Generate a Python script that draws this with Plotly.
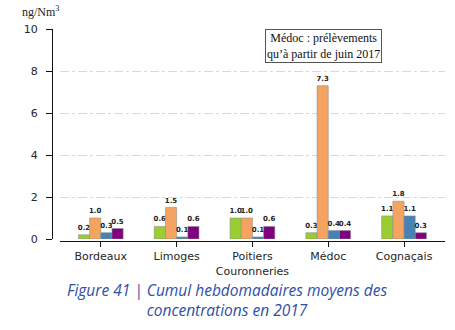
import plotly.graph_objects as go

# Sites and weekly cumulative mean concentrations (ng/Nm3), 2017
sites = ["Bordeaux", "Limoges", "Poitiers<br>Couronneries", "Médoc", "Cognaçais"]
serie_verte = [0.2, 0.6, 1.0, 0.3, 1.1]
serie_orange = [1.0, 1.5, 1.0, 7.3, 1.8]
serie_bleue = [0.3, 0.1, 0.1, 0.4, 1.1]
serie_violette = [0.5, 0.6, 0.6, 0.4, 0.3]
y_ticks = [0, 2, 4, 6, 8, 10]

couleurs = ["#9acd32", "#f4a460", "#4682b4", "#800080"]
series = [serie_verte, serie_orange, serie_bleue, serie_violette]

W, H = 455, 330
M_L, M_R, M_T, M_B = 52, 10, 29, 89
plot_w = W - M_L - M_R
plot_h = H - M_T - M_B


def px_x(px):
    """pixel column -> paper x"""
    return (px - M_L) / plot_w


def py(px):
    """pixel row -> paper y"""
    return (H - M_B - px) / plot_h


fig = go.Figure()
for vals, col in zip(series, couleurs):
    fig.add_trace(go.Bar(
        x=list(range(len(sites))), y=vals,
        marker=dict(color=col, line=dict(color="rgba(140,140,140,0.7)", width=0.8)),
        text=[f"{v:.1f}" for v in vals], textposition="outside",
        textfont=dict(family="DejaVu Sans", size=7, color="#222", weight="bold"),
        constraintext="none", cliponaxis=False, showlegend=False,
    ))

fig.update_layout(
    width=W, height=H,
    margin=dict(l=M_L, r=M_R, t=M_T, b=M_B),
    paper_bgcolor="white", plot_bgcolor="white",
    barmode="group", bargap=0.41, bargroupgap=0,
    font=dict(family="DejaVu Sans", color="#262626"),
    xaxis=dict(
        domain=[0.02, 1], anchor="free", position=0,
        range=[-0.54, 4.54], tickmode="array",
        tickvals=list(range(len(sites))), ticktext=sites,
        showline=True, linecolor="#111", linewidth=1.2,
        ticks="outside", ticklen=5, tickcolor="#111", tickwidth=1,
        tickfont=dict(size=11), showgrid=False, zeroline=False,
    ),
    yaxis=dict(
        domain=[2 / plot_h, 1], anchor="free", position=0,
        range=[0, 10], tickvals=y_ticks,
        showline=True, linecolor="#111", linewidth=1.2,
        ticks="outside", ticklen=6, tickcolor="#111", tickwidth=1,
        ticklabelstandoff=6, tickfont=dict(size=11),
        showgrid=True, gridcolor="#d9d9d9", griddash="dashdot", gridwidth=1,
        zeroline=False,
    ),
)

# unit label above the y axis
fig.add_annotation(
    text="ng/Nm<sup>3</sup>", xref="paper", yref="paper",
    x=px_x(41), y=py(12), xanchor="center", yanchor="middle", showarrow=False,
    font=dict(family="Liberation Serif", size=12, color="#222"),
)

# note about the Médoc sampling period
fig.add_annotation(
    text="Médoc : prélèvements<br>qu’à partir de juin 2017",
    xref="paper", yref="paper", x=px_x(323), y=py(46.5),
    xanchor="center", yanchor="middle", showarrow=False,
    font=dict(family="Liberation Serif", size=12, color="#111"),
    bordercolor="#555", borderwidth=1, borderpad=1, bgcolor="white",
)

# figure caption
fig.add_annotation(
    text="Figure 41 | Cumul hebdomadaires moyens des<br>concentrations en 2017",
    xref="paper", yref="paper", x=px_x(227), y=py(300),
    xanchor="center", yanchor="middle", showarrow=False,
    font=dict(family="Open Sans", size=15.5, color="#2e4fa6", style="italic"),
)

fig.write_html("out.html")
